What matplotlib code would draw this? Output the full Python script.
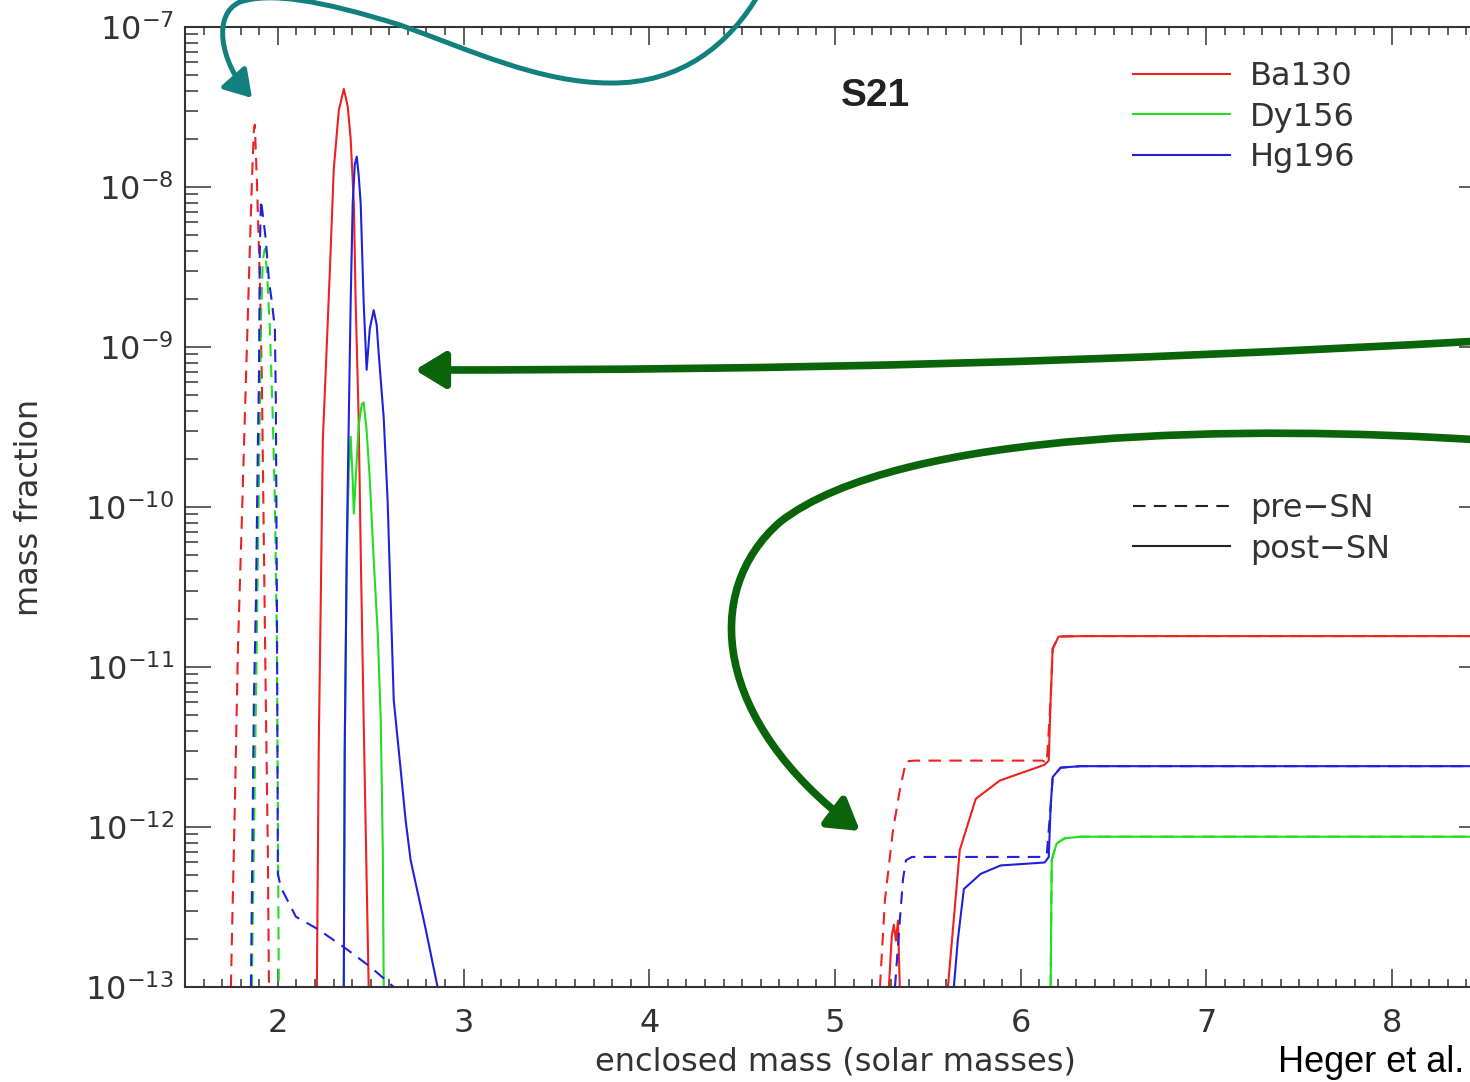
import numpy as np
import matplotlib
matplotlib.use("Agg")
import matplotlib.pyplot as plt
from matplotlib.lines import Line2D
from matplotlib.path import Path
from matplotlib.patches import FancyArrowPatch, ArrowStyle
from matplotlib.ticker import MultipleLocator

nan = np.nan

# --- data (x: enclosed mass, y: mass fraction) ---
ba130_pre_x = [1.747, 1.769, 1.785, 1.806, 1.828, 1.849, 1.860, 1.871, 1.876, 1.887,
               1.903, 1.914, 1.925, 1.935, 1.946, 1.952, nan,
               5.242, 5.269, 5.312, 5.349, 5.382, 5.430, 6.118, 6.140, 6.161,
               6.172, 6.204, 6.323, 8.5]
ba130_pre_y = [1e-13, 1.5e-12, 1.3e-11, 8.3e-11, 6.2e-10, 4.1e-9, 1.06e-8, 2.3e-8, 2.45e-8, 1.1e-8,
               2.6e-9, 6.2e-10, 5.4e-11, 6.2e-12, 7.2e-13, 1e-13, nan,
               1e-13, 3.5e-13, 9.5e-13, 1.7e-12, 2.57e-12, 2.6e-12, 2.6e-12, 2.5e-12, 6.2e-12,
               1.3e-11, 1.55e-11, 1.56e-11, 1.56e-11]

ba130_post_x = [2.210, 2.220, 2.231, 2.242, 2.258, 2.280, 2.301, 2.328, 2.355, 2.376,
                2.392, 2.409, 2.419, 2.435, 2.446, 2.462, 2.478, 2.489, nan,
                5.290, 5.306, 5.317, 5.328, 5.339, 5.349, nan,
                5.608, 5.672, 5.758, 5.887, 6.129, 6.151, 6.161, 6.172, 6.204, 6.323, 8.5]
ba130_post_y = [1e-13, 3.0e-12, 2.6e-11, 2.6e-10, 7.2e-10, 3.0e-9, 1.29e-8, 3.0e-8, 4.1e-8, 3.2e-8,
                2.0e-8, 7.9e-9, 1.9e-9, 3.6e-10, 5.4e-11, 4.7e-12, 4.7e-13, 1e-13, nan,
                1e-13, 2.1e-13, 2.45e-13, 1.95e-13, 2.6e-13, 1e-13, nan,
                1e-13, 7.2e-13, 1.5e-12, 1.95e-12, 2.45e-12, 2.6e-12, 6.2e-12, 1.3e-11, 1.55e-11,
                1.56e-11, 1.56e-11]

dy156_pre_x = [1.860, 1.882, 1.898, 1.909, 1.919, 1.930, 1.941, 1.957, 1.973, 1.984,
               1.995, 2.000, 2.005, nan,
               6.161, 6.167, 6.183, 6.194, 6.237, 6.323, 8.5]
dy156_pre_y = [1e-13, 6.2e-12, 1.48e-10, 1.48e-9, 3.5e-9, 4.1e-9, 3.0e-9, 1.3e-9, 3.5e-10, 1.1e-10,
               1.3e-11, 1.5e-12, 1e-13, nan,
               1e-13, 6.2e-13, 7.2e-13, 7.9e-13, 8.5e-13, 8.7e-13, 8.7e-13]

dy156_post_x = [2.355, 2.360, 2.371, 2.382, 2.392, 2.403, 2.409, 2.419, 2.435, 2.452,
                2.462, 2.478, 2.495, 2.516, 2.538, 2.554, 2.565, 2.570, nan,
                6.161, 6.167, 6.183, 6.194, 6.237, 6.323, 8.5]
dy156_post_y = [1e-13, 3.0e-12, 4.7e-11, 1.7e-10, 2.75e-10, 1.48e-10, 9.1e-11, 1.48e-10, 3.2e-10, 4.4e-10,
                4.5e-10, 3.0e-10, 1.48e-10, 4.7e-11, 1.6e-11, 4.7e-12, 7.2e-13, 1e-13, nan,
                1e-13, 6.2e-13, 7.2e-13, 7.9e-13, 8.5e-13, 8.7e-13, 8.7e-13]

hg196_pre_x = [1.855, 1.871, 1.882, 1.892, 1.898, 1.903, 1.909, 1.919, 1.935, 1.952,
               1.968, 1.984, 1.989, 1.995, 2.000, 2.016, 2.097, 2.215, 2.366, 2.500, 2.624, nan,
               5.323, 5.349, 5.366, 5.382, 5.414, 6.118, 6.140, 6.161, 6.172, 6.215, 6.323, 8.5]
hg196_pre_y = [1e-13, 6.2e-12, 2.6e-11, 2.3e-10, 6.2e-10, 4.1e-9, 8.3e-9, 6.7e-9, 4.7e-9, 2.6e-9,
               1.9e-9, 1.3e-9, 4.7e-10, 2.6e-11, 5.1e-13, 4.2e-13, 2.75e-13, 2.3e-13, 1.74e-13, 1.33e-13,
               1e-13, nan,
               1e-13, 2.6e-13, 4.7e-13, 6.2e-13, 6.5e-13, 6.5e-13, 6.7e-13, 1.33e-12, 2.05e-12,
               2.35e-12, 2.4e-12, 2.4e-12]

hg196_post_x = [2.355, 2.360, 2.371, 2.382, 2.392, 2.403, 2.414, 2.425, 2.435, 2.446,
                2.462, 2.478, 2.495, 2.516, 2.532, 2.543, 2.570, 2.591, 2.624, 2.661,
                2.688, 2.715, 2.796, 2.860, nan,
                5.640, 5.661, 5.694, 5.785, 5.892, 6.129, 6.151, 6.161, 6.172, 6.215, 6.323, 8.5]
hg196_post_y = [1e-13, 3.0e-12, 5.4e-11, 3.6e-10, 1.9e-9, 7.9e-9, 1.38e-8, 1.55e-8, 1.19e-8, 7.9e-9,
                1.9e-9, 7.2e-10, 1.3e-9, 1.7e-9, 1.38e-9, 9.1e-10, 3.6e-10, 1.1e-10, 6.2e-12, 2.3e-12,
                1.1e-12, 6.2e-13, 2.3e-13, 1e-13, nan,
                1e-13, 1.95e-13, 4.1e-13, 5.1e-13, 5.75e-13, 6.0e-13, 6.5e-13, 1.33e-12, 2.05e-12,
                2.35e-12, 2.4e-12, 2.4e-12]

isotopes = ["Ba130", "Dy156", "Hg196"]
colors = ["#ee2020", "#22dd22", "#2020dd"]
phases = ["pre\u2212SN", "post\u2212SN"]

W, H = 1470, 1082
TXT = "#333333"
FS = 23

plt.rcParams["font.family"] = ["DejaVu Sans"]
plt.rcParams["mathtext.fontset"] = "dejavusans"

fig = plt.figure(figsize=(W / 100, H / 100), dpi=100)
ax = fig.add_axes([185 / W, (H - 987) / H, 1300 / W, 960 / H])

dash = (0, (6, 4))
pre = [(ba130_pre_x, ba130_pre_y), (dy156_pre_x, dy156_pre_y), (hg196_pre_x, hg196_pre_y)]
post = [(ba130_post_x, ba130_post_y), (dy156_post_x, dy156_post_y), (hg196_post_x, hg196_post_y)]
for (x, y), c in zip(post, colors):
    ax.plot(x, y, color=c, lw=1.5)
for (x, y), c in zip(pre, colors):
    ax.plot(x, y, color=c, lw=1.5, linestyle=dash)

ax.set_yscale("log")
ax.set_xlim(1.5, 8.5)
ax.set_ylim(1e-13, 1e-7)
ax.xaxis.set_major_locator(MultipleLocator(1))
ax.xaxis.set_minor_locator(MultipleLocator(0.1))

for s in ax.spines.values():
    s.set_color(TXT)
    s.set_linewidth(1.5)
ax.tick_params(which="both", direction="in", top=True, right=True, colors=TXT, width=1.1,
               labelsize=FS, labelcolor=TXT)
ax.tick_params(axis="x", which="major", length=13, pad=15)
ax.tick_params(axis="x", which="minor", length=5.5)
ax.tick_params(axis="y", which="major", length=19, pad=8)
ax.tick_params(axis="y", which="minor", length=9)

ax.set_xlabel("enclosed mass (solar masses)", fontsize=FS, color=TXT)
ax.xaxis.set_label_coords(0.5, -0.062)
ax.set_ylabel("mass fraction", fontsize=FS, color=TXT)
ax.yaxis.set_label_coords(-0.108, 0.5)

ax.text(0.531, 0.928, "S21", transform=ax.transAxes, ha="center", va="center",
        fontsize=28, fontweight="bold", family="Liberation Sans", color="#222222")

# legends
h_iso = [Line2D([], [], color=c, lw=1.5) for c in colors]
leg1 = ax.legend(h_iso, isotopes, loc="upper left", bbox_to_anchor=(1133 / W, 1 - 61 / H),
                 bbox_transform=fig.transFigure, frameon=False, borderpad=0, borderaxespad=0,
                 handlelength=3.04, handletextpad=0.63, labelspacing=0.3, fontsize=FS,
                 labelcolor=TXT)
ax.add_artist(leg1)
h_ph = [Line2D([], [], color="#222222", lw=1.5, linestyle=dash),
        Line2D([], [], color="#222222", lw=1.5)]
ax.legend(h_ph, phases, loc="upper left", bbox_to_anchor=(1133 / W, 1 - 493 / H),
          bbox_transform=fig.transFigure, frameon=False, borderpad=0, borderaxespad=0,
          handlelength=3.04, handletextpad=0.63, labelspacing=0.3, fontsize=FS, labelcolor=TXT)

fig.text(1278 / W, 1 - 1072 / H, "Heger et al.", family="Liberation Sans", fontsize=26,
         color="black", ha="left", va="baseline")


# annotation arrows (figure pixel positions)
def fp(px, py):
    return (px / W, 1 - py / H)


def add_arrow(pts, codes, color, lw, hl, hw):
    path = Path([fp(*p) for p in pts], codes)
    arr = FancyArrowPatch(path=path, transform=fig.transFigure,
                          arrowstyle=ArrowStyle("-|>", head_length=hl, head_width=hw),
                          color=color, lw=lw, clip_on=False)
    fig.add_artist(arr)


C4 = Path.CURVE4
add_arrow([(760, -8), (730, 45), (680, 84), (610, 83),
           (540, 83), (470, 50), (400, 25),
           (320, 0), (270, -8), (240, 2),
           (212, 14), (220, 62), (252, 98)],
          [Path.MOVETO, C4, C4, C4, C4, C4, C4, C4, C4, C4, C4, C4, C4],
          "#138080", 3.6, 16, 10)

add_arrow([(1480, 341), (1100, 362), (800, 370), (415, 370)],
          [Path.MOVETO, C4, C4, C4], "#0a640a", 5.5, 18, 11)

add_arrow([(1480, 440), (1250, 425), (900, 428), (780, 522),
           (700, 592), (715, 722), (860, 831)],
          [Path.MOVETO, C4, C4, C4, C4, C4, C4], "#0a640a", 5.5, 18, 11)

fig.savefig("out.png", dpi=100)
